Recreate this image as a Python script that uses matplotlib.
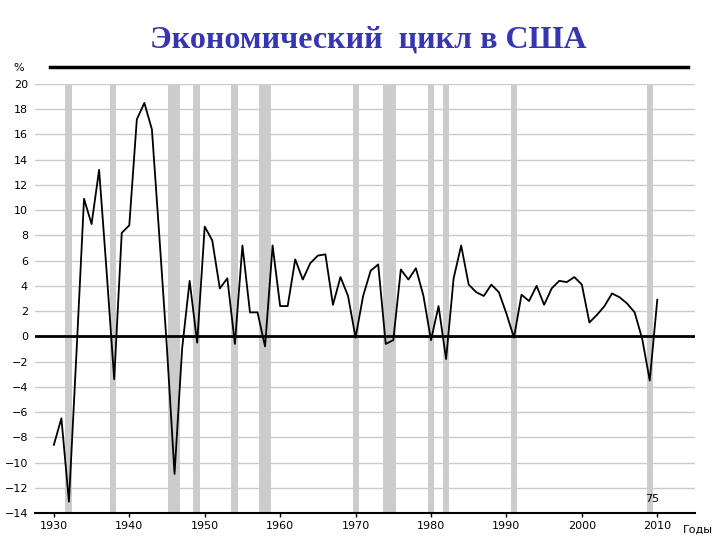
import matplotlib.pyplot as plt

years = list(range(1930, 2011))
growth = [-8.6, -6.5, -13.1, -1.3, 10.9, 8.9, 13.2, 5.1, -3.4, 8.2,
          8.8, 17.2, 18.5, 16.4, 7.8, -1.0, -10.9, -1.0, 4.4, -0.5,
          8.7, 7.6, 3.8, 4.6, -0.6, 7.2, 1.9, 1.9, -0.8, 7.2,
          2.4, 2.4, 6.1, 4.5, 5.8, 6.4, 6.5, 2.5, 4.7, 3.2,
          -0.1, 3.2, 5.2, 5.7, -0.6, -0.3, 5.3, 4.5, 5.4, 3.2,
          -0.3, 2.4, -1.8, 4.6, 7.2, 4.1, 3.5, 3.2, 4.1, 3.5,
          1.8, -0.1, 3.3, 2.8, 4.0, 2.5, 3.8, 4.4, 4.3, 4.7,
          4.1, 1.1, 1.7, 2.4, 3.4, 3.1, 2.6, 1.9, -0.2, -3.5,
          2.9]

# recession bands (start, end year)
recessions = [(1931.5, 1932.4), (1937.5, 1938.3), (1945.1, 1946.7), (1948.5, 1949.4),
              (1953.5, 1954.4), (1957.2, 1958.8), (1969.6, 1970.4), (1973.7, 1975.3),
              (1979.6, 1980.4), (1981.6, 1982.4), (1990.6, 1991.4), (2008.6, 2009.4)]

yticks = list(range(-14, 21, 2))
xticks = list(range(1930, 2011, 10))

plt.rcParams['font.family'] = ['Liberation Sans Narrow', 'DejaVu Sans']

fig = plt.figure(figsize=(7.2, 5.4), dpi=100)
ax = fig.add_axes([35 / 720, 27 / 540, 660 / 720, 429 / 540])

for a, b in recessions:
    ax.axvspan(a, b, color='#cccccc', lw=0, zorder=1)

for y in yticks:
    if y != 0 and y != -14:
        ax.axhline(y, color='#cacaca', lw=1.0, zorder=0)
ax.axhline(0, color='black', lw=2, zorder=2)

ax.plot(years, growth, color='black', lw=1.3, zorder=3)

ax.set_xlim(1927.5, 2015)
ax.set_ylim(-14, 20)
ax.set_yticks(yticks)
ax.set_yticklabels([str(v).replace('-', '\u2212') for v in yticks])
ax.set_xticks(xticks)
for s in ['left', 'right', 'top']:
    ax.spines[s].set_visible(False)
ax.spines['bottom'].set_linewidth(1.5)
ax.tick_params(axis='y', length=0, pad=5, labelsize=8)
ax.tick_params(axis='x', length=3, width=1, pad=3, labelsize=8)

ax.text(2009.3, -13.3, '75', fontsize=8, ha='center', va='bottom')
fig.text(683 / 720, 1 - 530 / 540, 'Годы', fontsize=8, ha='left', va='center')
fig.text(13 / 720, 1 - 68 / 540, '%', fontsize=8, ha='left', va='center')

fig.add_artist(plt.Line2D([50 / 720, 688 / 720], [1 - 67 / 540, 1 - 67 / 540],
                          color='black', lw=2.5))
fig.text(368 / 720, 1 - 40 / 540, 'Экономический  цикл в США', fontsize=23,
         family='Liberation Serif', fontweight='bold', color='#3636b0',
         ha='center', va='center')

fig.savefig('out.png', dpi=100)
